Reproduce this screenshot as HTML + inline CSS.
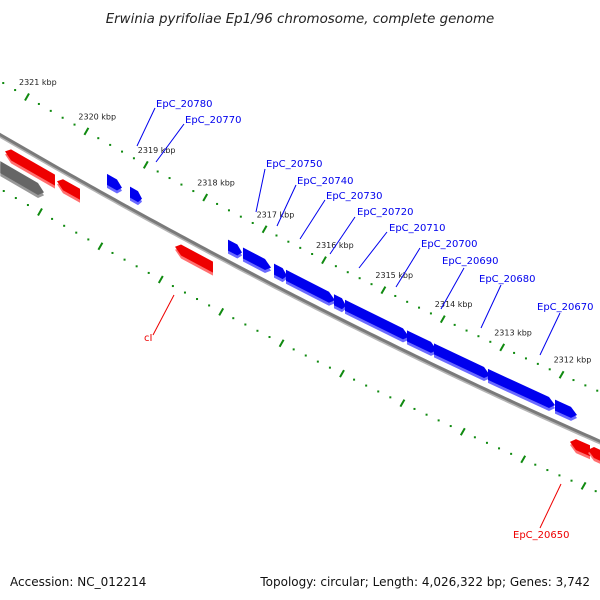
<!DOCTYPE html>
<html><head><meta charset="utf-8"><style>
html,body{margin:0;padding:0;background:#fff;}
svg{display:block;font-family:"DejaVu Sans","Liberation Sans",sans-serif;}
</style></head><body>
<svg id="chart" width="600" height="600" viewBox="0 0 600 600" xmlns="http://www.w3.org/2000/svg">
<text x="300" y="23" text-anchor="middle" font-size="13.4" font-style="italic" fill="#222">Erwinia pyrifoliae Ep1/96 chromosome, complete genome</text>
<g id="rulers"></g>
<g id="backbone"></g>
<g id="genes"></g>
<g id="labels"></g>
<text x="10" y="586" font-size="12" fill="#111">Accession: NC_012214</text>
<text x="590" y="586" text-anchor="end" font-size="12" fill="#111">Topology: circular; Length: 4,026,322 bp; Genes: 3,742</text>
</svg>
<script>
// data
const kbpTicks = [2321,2320,2319,2318,2317,2316,2315,2314,2313,2312];
const fwdNames = ['EpC_20780','EpC_20770','','EpC_20750','EpC_20740','EpC_20730','EpC_20720','EpC_20710','EpC_20700','EpC_20690','EpC_20680','EpC_20670'];
const fwdStart = [2319.653,2319.266,0,2317.616,2317.364,2316.842,2316.640,2315.832,2315.647,2314.603,2314.148,2313.239];
const fwdEnd   = [2319.401,2319.064,0,2317.380,2316.892,2316.623,2315.815,2315.630,2314.569,2314.098,2313.205,2312.111];
const extraFwdStart = [2312.111];
const extraFwdEnd = [2311.741];
const revNames = ['','','cI','','EpC_20650'];
const revStart = [2321.370,2320.495,2318.508,2311.859,2311.556];
const revEnd   = [2320.529,2320.108,2317.869,2311.522,2311.200];
const pseudoStart = [2321.45];
const pseudoEnd = [2320.714];

const NS='http://www.w3.org/2000/svg';
function mk(tag, attrs, parent){const e=document.createElementNS(NS,tag);for(const k in attrs)e.setAttribute(k,attrs[k]);parent.appendChild(e);return e;}
// axis functions
function xU(k){return 27+59.4*(2321-k);}
function xL(k){return 40+60.4*(2321-k);}
function yU(x){return 81.1+0.593*x-0.000125*x*x;}
function yL(x){return 188.8+0.585*x-0.00013*x*x;}
function yB(x){return 135+0.582*x-0.000118*x*x;}

const rul=document.getElementById('rulers');
function ruler(xf,yf,from,to,name){
  for(let i=Math.round(from*5);i>=Math.round(to*5);i--){
    const k=i/5,x=xf(k),y=yf(x);
    if(x<-3||x>603)continue;
    if(i%5===0){
      const t=mk('line',{x1:x-2,y1:y+3.5,x2:x+2,y2:y-3.5,stroke:'#108a10','stroke-width':2},rul);
      
      
    } else {
      const d=mk('rect',{x:x-1,y:y-1,width:2,height:2,fill:'#108a10'},rul);
      
      
    }
  }
}
ruler(xU,yU,2321.6,2311.2,'upper-ruler');
ruler(xL,yL,2321.6,2311.2,'lower-ruler');
kbpTicks.forEach(k=>{
  const x=xU(k),y=yU(x);
  const t=mk('text',{x:x-8,y:y-12,'font-size':8,fill:'#222'},rul);
  t.textContent=k+' kbp';
  
  
});

// backbone
const bb=document.getElementById('backbone');
let p1='',p2='';
for(let x=-5;x<=605;x+=5){p1+=x+','+(yB(x)-0.5)+' ';p2+=x+','+(yB(x)+1.8)+' ';}
const b2=mk('polyline',{points:p2,fill:'none',stroke:'#b4b4b4','stroke-width':2},bb);


const b1=mk('polyline',{points:p1,fill:'none',stroke:'#7a7a7a','stroke-width':3},bb);



const gg=document.getElementById('genes');
function gene(s,e,dir,top,bot,col,light,name){
  const x0=xU(s),x1=xU(e);
  const tip=Math.min(6,(x1-x0)/3);
  const T=x=>yB(x)+top,B=x=>yB(x)+bot,M=x=>yB(x)+(top+bot)/2;
  let pts;
  if(dir>0) pts=[[x0,T(x0)],[x1-tip,T(x1-tip)],[x1,M(x1)],[x1-tip,B(x1-tip)],[x0,B(x0)]];
  else pts=[[x0,M(x0)],[x0+tip,T(x0+tip)],[x1,T(x1)],[x1,B(x1)],[x0+tip,B(x0+tip)]];
  const g=mk('g',{},gg);
  
  
  const sh=mk('polygon',{points:pts.map(p=>p[0]+','+(p[1]+3)).join(' '),fill:light},g);
  
  
  const f=mk('polygon',{points:pts.map(p=>p[0]+','+p[1]).join(' '),fill:col},g);
  
  
}
fwdStart.forEach((s,i)=>{if(s)gene(s,fwdEnd[i],1,-22,-11,'#0000ee','#6a6aff','gene-'+(fwdNames[i]||'fwd').toLowerCase());});
extraFwdStart.forEach((s,i)=>gene(s,extraFwdEnd[i],1,-22,-11,'#0000ee','#6a6aff','gene-fwd-extra'));
revStart.forEach((s,i)=>gene(s,revEnd[i],-1,8,19,'#ee0000','#ff7070','gene-'+(revNames[i]||'rev-'+i).toLowerCase()));
pseudoStart.forEach((s,i)=>gene(s,pseudoEnd[i],1,26,38,'#666666','#999999','gene-pseudo'));

// labels layout: [text x, baseline y, line x1,y1,x2,y2]
const fwdLabelLayout=[[156,107,155,108,137,146],[185,123,184,124,156,162],null,[266,167,265,169,256,212],[297,184,296,185,277,226],[326,199,325,200,300,239],[357,215,355,217,330,254],[389,231,387,232,359,268],[421,247,420,248,396,287],[442,264,464,268,441,309],[479,282,501,285,481,328],[537,310,560,313,540,355]];
const revLabelLayout=[null,null,[144,341,153,335,174,295],null,[513,538,540,528,561,484]];
const lg=document.getElementById('labels');
function label(name,L,col){
  const l=mk('line',{x1:L[2],y1:L[3],x2:L[4],y2:L[5],stroke:col,'stroke-width':1},lg);
  
  
  const t=mk('text',{x:L[0],y:L[1],'font-size':10,fill:col},lg);
  t.textContent=name;
  
  
}
fwdNames.forEach((n,i)=>{if(n&&fwdLabelLayout[i])label(n,fwdLabelLayout[i],'#0000ee');});
revNames.forEach((n,i)=>{if(n&&revLabelLayout[i])label(n,revLabelLayout[i],'#ee0000');});
</script>
</body></html>
